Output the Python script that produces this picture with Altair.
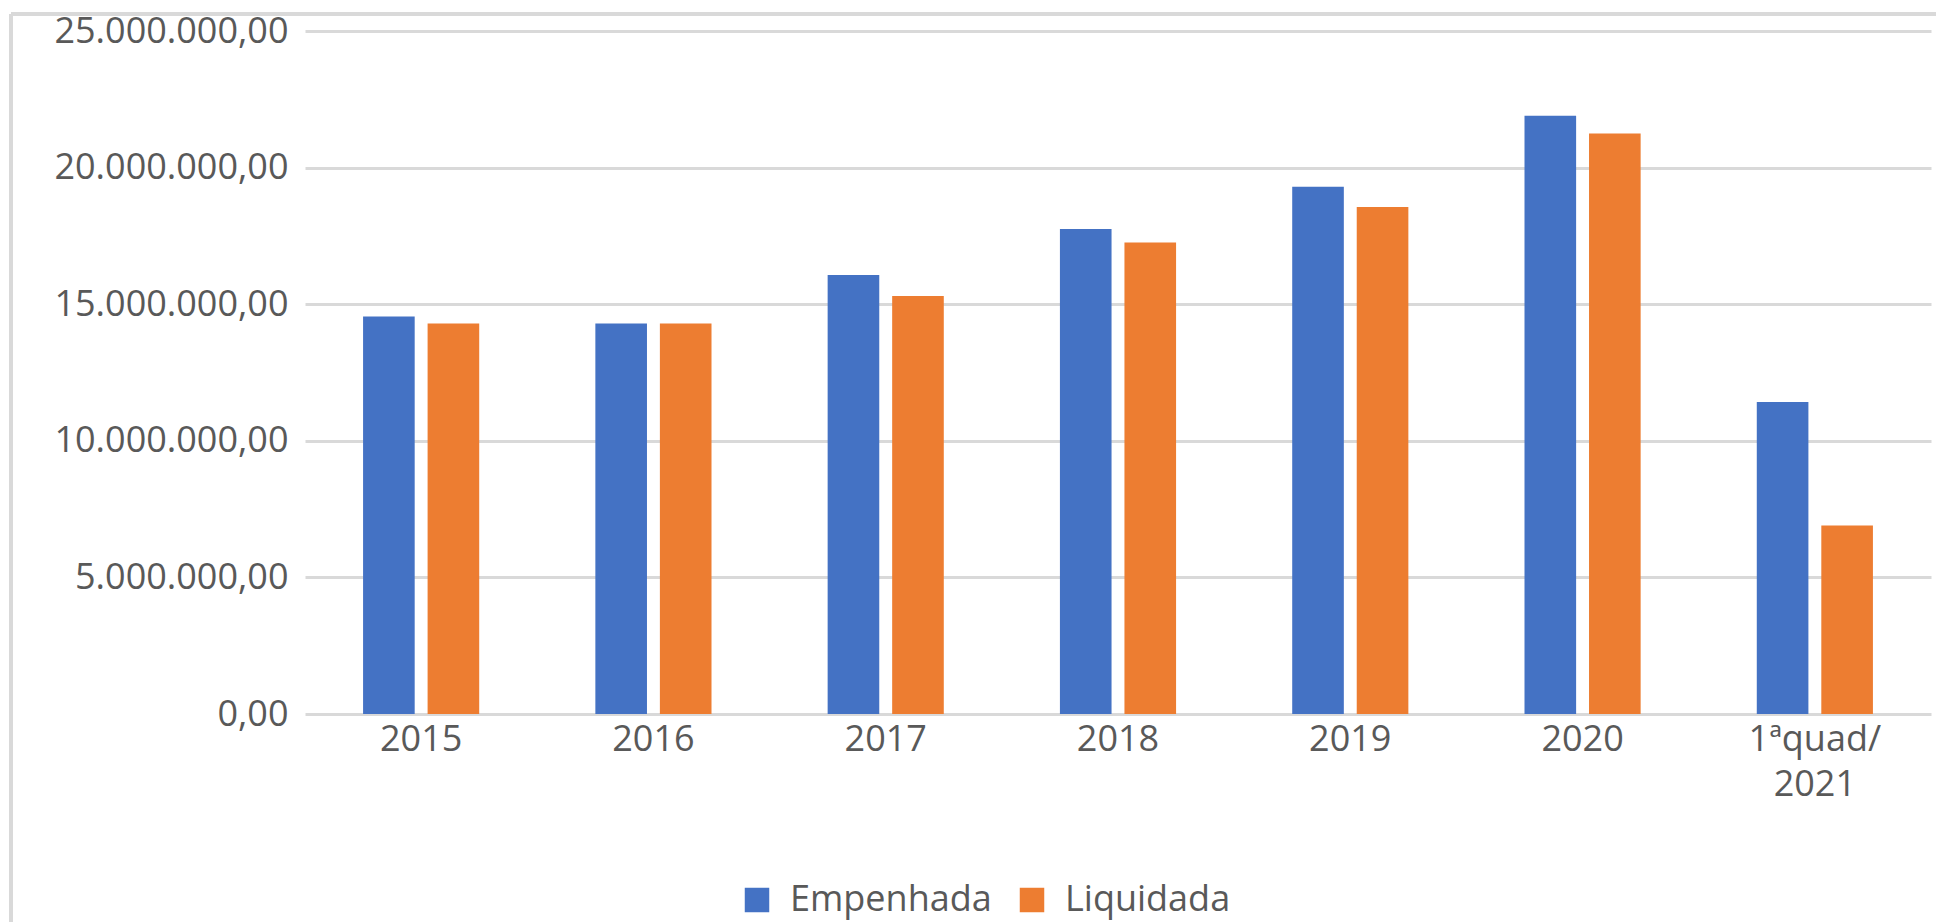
import altair as alt
import pandas as pd

categories = ["2015", "2016", "2017", "2018", "2019", "2020", "1ªquad/2021"]
empenhada = [14550000, 14290000, 16070000, 17750000, 19300000, 21900000, 11420000]
liquidada = [14290000, 14290000, 15300000, 17260000, 18560000, 21250000, 6900000]
series = ["Empenhada", "Liquidada"]
colors = ["#4472C4", "#ED7D31"]

rows = []
for c, e, l in zip(categories, empenhada, liquidada):
    rows.append({"cat": c, "serie": series[0], "valor": e})
    rows.append({"cat": c, "serie": series[1], "valor": l})
df = pd.DataFrame(rows)

FONT = "Open Sans"
TXT = "#595959"
GRID = "#D9D9D9"
FS = 36

W, H = 1626, 683

bars = alt.Chart(df).mark_bar().encode(
    x=alt.X("cat:N", sort=categories, title=None,
            scale=alt.Scale(paddingInner=0.5, paddingOuter=0.25),
            axis=alt.Axis(labelAngle=0, domain=False, ticks=False, grid=False,
                          labelFont=FONT, labelFontSize=FS, labelColor=TXT, labelLimit=0,
                          labelPadding=8, labelLineHeight=45,
                          labelExpr="datum.label == '1ªquad/2021' ? ['1ªquad/', '2021'] : datum.label")),
    xOffset=alt.XOffset("serie:N", sort=series,
                        scale=alt.Scale(paddingInner=0.2, paddingOuter=0)),
    y=alt.Y("valor:Q", title=None,
            scale=alt.Scale(domain=[0, 25000000], nice=False),
            axis=alt.Axis(values=[0, 5000000, 10000000, 15000000, 20000000, 25000000],
                          domain=False, ticks=False, grid=True, gridColor=GRID, gridWidth=3,
                          labelFont=FONT, labelFontSize=FS, labelColor=TXT, labelPadding=17,
                          labelLimit=0,
                          labelExpr="replace(replace(replace(format(datum.value, ',.2f'), regexp(',', 'g'), '_'), regexp('\\\\.', 'g'), ','), regexp('_', 'g'), '.')")),
    color=alt.Color("serie:N", sort=series,
                    scale=alt.Scale(domain=series, range=colors),
                    legend=alt.Legend(title=None, orient="none", direction="horizontal",
                                      legendX=434, legendY=851,
                                      symbolType="square", symbolSize=600, symbolStrokeWidth=0,
                                      labelFont=FONT, labelFontSize=FS, labelColor=TXT,
                                      labelLimit=0,
                                      labelOffset=15, columnPadding=22)),
)

frame_df = pd.DataFrame({"k": [0]})
top_line = alt.Chart(frame_df).mark_rule(color=GRID, strokeWidth=4).encode(
    x=alt.value(-294), x2=alt.value(1640), y=alt.value(-17))
left_line = alt.Chart(frame_df).mark_rule(color=GRID, strokeWidth=4).encode(
    x=alt.value(-294), y=alt.value(-17), y2=alt.value(910))

chart = alt.layer(top_line, left_line, bars).properties(
    width=W, height=H,
    autosize=alt.AutoSizeParams(type="none"),
    padding={"left": 297, "top": 23, "right": 5, "bottom": 208},
).configure(background="white", view=alt.ViewConfig(stroke=None))

chart.save("out.html", embed_options={"renderer": "svg", "actions": False})
